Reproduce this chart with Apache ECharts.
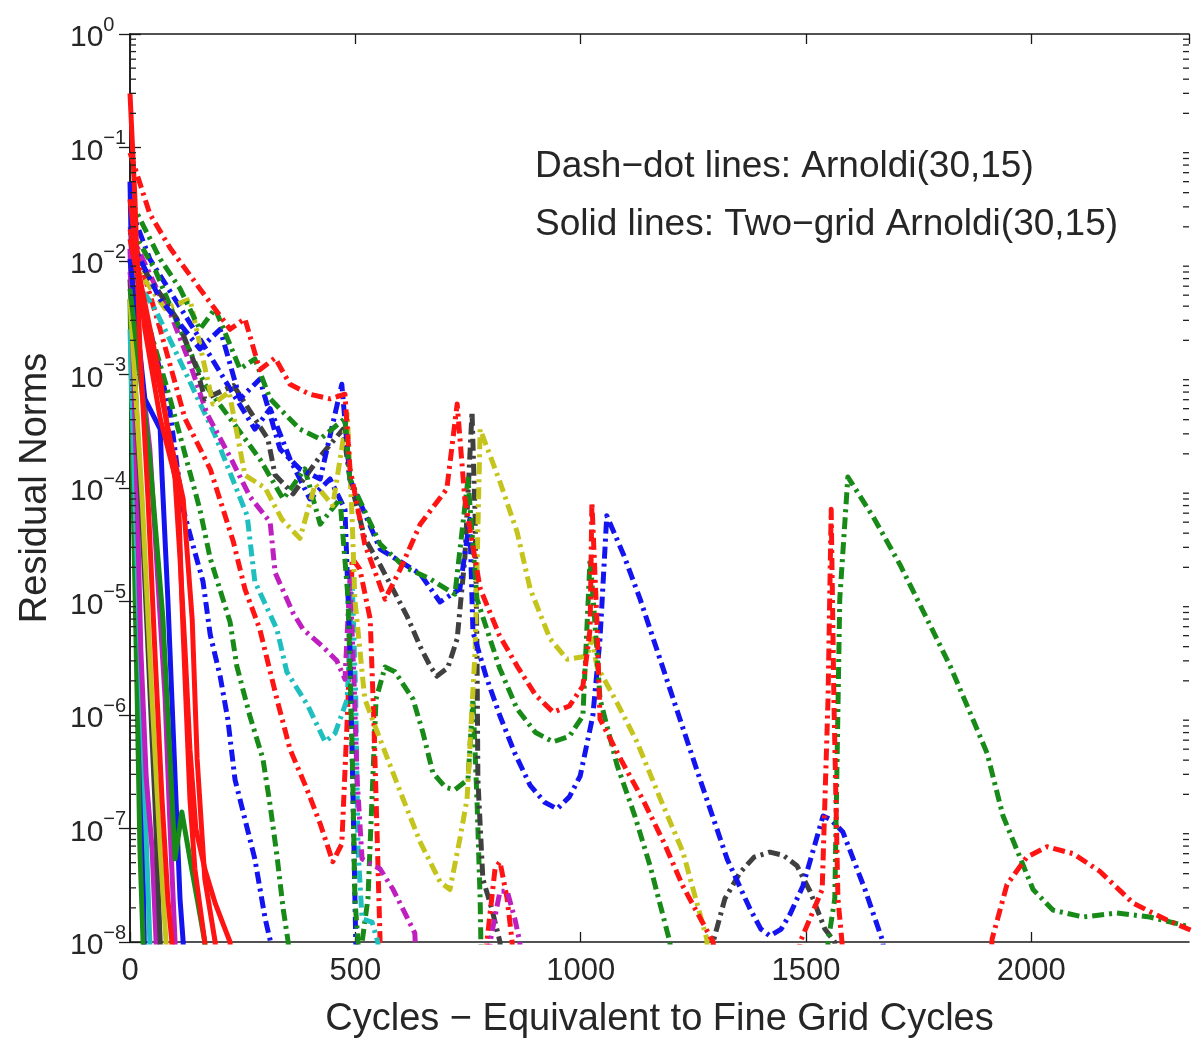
<!DOCTYPE html>
<html><head><meta charset="utf-8">
<script src="https://cdn.jsdelivr.net/npm/echarts@6/dist/echarts.min.js"></script>
<style>html,body{margin:0;padding:0;background:#fff}#c{width:1194px;height:1042px}</style>
</head><body><div id="c"></div>
<script>
// ---- axis definitions ----
const xTickValues = [0, 500, 1000, 1500, 2000];
const yDecadeExponents = [-8, -7, -6, -5, -4, -3, -2, -1, 0];
const minorMantissas = [2, 3, 4, 5, 6, 7, 8, 9];

// ---- Arnoldi(30,15): dash-dot lines ----
const arnRed1 = [[0,9e-2],[44,2.6e-2],[89,1.3e-2],[155,5.7e-3],[222,2.5e-3],[255,3.1e-3],[288,1.1e-3],[322,1.4e-3],[355,8.2e-4],[399,6.7e-4],[444,6.1e-4],[477,6.7e-4],[488,1.5e-4],[521,3.2e-5],[566,1.05e-5],[599,1.9e-5],[644,4.8e-5],[703,9.8e-5],[726,5.5e-4],[743,8e-5],[777,1.3e-5],[820,5e-6],[859,2.7e-6],[900,1.5e-6],[939,1.06e-6],[975,1.2e-6],[1005,1.8e-6],[1021,5.7e-6],[1025,7.5e-5],[1036,7e-6],[1043,9.2e-7],[1090,4e-7],[1138,1.8e-7],[1185,7.5e-8],[1227,3.1e-8],[1294,1e-8],[1309,1e-9]];
const arnGreen1 = [[0,3.5e-2],[67,1.04e-2],[111,5.7e-3],[155,2.5e-3],[189,3.8e-3],[244,1.12e-3],[277,1.37e-3],[311,6.1e-4],[377,3.3e-4],[422,2.7e-4],[477,4.1e-4],[488,1.2e-4],[555,3.2e-5],[610,2.0e-5],[666,1.58e-5],[721,1.16e-5],[750,1.2e-4],[770,1.05e-5],[820,2.6e-6],[859,1.13e-6],[900,7.0e-7],[939,5.8e-7],[975,6.5e-7],[1005,9.8e-7],[1021,2.4e-5],[1036,3.8e-6],[1043,1.38e-6],[1081,3.6e-7],[1120,1.3e-7],[1154,4.7e-8],[1198,1e-8],[1220,1e-9],[1536,1e-9],[1549,1e-8],[1564,2.4e-8],[1575,1.05e-5],[1593,1.25e-4],[1650,5.5e-5],[1709,2.1e-5],[1765,7.5e-6],[1820,2.7e-6],[1862,1.1e-6],[1902,4.6e-7],[1937,1.3e-7],[1968,6.5e-8],[2004,2.9e-8],[2048,1.91e-8],[2115,1.66e-8],[2190,1.8e-8],[2263,1.66e-8],[2352,1.36e-8]];
const arnBlue1 = [[0,1.56e-2],[67,4.6e-3],[155,1.68e-3],[200,2.5e-3],[244,6.1e-4],[288,9.1e-4],[333,2.2e-4],[377,1.47e-4],[422,1.2e-4],[470,8.2e-4],[488,1.2e-4],[555,2.9e-5],[644,1.75e-5],[688,9.9e-6],[732,1.29e-5],[754,5.3e-5],[761,5.4e-6],[790,2.2e-6],[821,9.8e-7],[855,4.5e-7],[888,2.4e-7],[920,1.7e-7],[948,1.49e-7],[975,1.9e-7],[999,2.9e-7],[1027,9.8e-7],[1043,4.7e-6],[1058,5.7e-5],[1095,2.6e-5],[1132,1.05e-5],[1198,1.7e-6],[1265,2.7e-7],[1325,5.4e-8],[1376,1.95e-8],[1400,1.3e-8],[1420,1.13e-8],[1445,1.3e-8],[1465,1.77e-8],[1493,3.1e-8],[1538,1.29e-7],[1555,1.2e-7],[1582,9.3e-8],[1631,2.9e-8],[1671,1e-8],[1686,1e-9]];
const arnYellow1 = [[0,1.04e-2],[78,3.8e-3],[133,4.6e-3],[184,5.5e-4],[220,7e-4],[255,1.3e-4],[300,1.0e-4],[337,5.3e-5],[377,3.6e-5],[411,1.08e-4],[450,7e-5],[482,4.5e-4],[493,5.3e-5],[499,1.05e-5],[521,1.38e-6],[555,6.1e-7],[606,1.82e-7],[644,7.6e-8],[688,3.4e-8],[710,2.9e-8],[732,8.1e-8],[748,1.82e-7],[766,3.8e-6],[777,3.3e-4],[821,1.13e-4],[859,4.1e-5],[888,1.29e-5],[932,4.7e-6],[970,3.1e-6],[1014,3.3e-6],[1025,4.7e-6],[1036,2.7e-6],[1080,1.3e-6],[1125,5.8e-7],[1175,1.9e-7],[1227,6.2e-8],[1280,1.06e-8],[1291,1e-9]];
const arnGray1 = [[0,1.28e-2],[104,3.1e-3],[149,1.1e-3],[166,6.1e-4],[230,8e-4],[306,2.7e-4],[322,1.3e-4],[362,8.9e-5],[422,1.9e-4],[473,3.3e-4],[488,1.2e-4],[521,3.6e-5],[555,2.1e-5],[615,7.4e-6],[644,4e-6],[666,2.7e-6],[681,2.2e-6],[705,2.6e-6],[726,4.7e-6],[743,2.4e-5],[759,4.7e-4],[766,5.3e-5],[770,3.8e-6],[772,2.7e-7],[783,3.6e-8],[803,1.95e-8],[821,1e-8],[832,1e-9],[1290,1e-9],[1294,1e-8],[1320,2.4e-8],[1354,4.1e-8],[1385,5.6e-8],[1420,6.2e-8],[1450,5.8e-8],[1480,4.7e-8],[1509,2.8e-8],[1542,1.3e-8],[1564,1e-8],[1575,1e-9]];
const arnGreen2 = [[0,6.9e-3],[44,2.5e-3],[89,6.1e-4],[155,6.5e-5],[178,2.4e-5],[222,6.6e-6],[237,2.7e-6],[266,9.8e-7],[295,4.1e-7],[311,1.6e-7],[326,5.8e-8],[340,1.95e-8],[351,1e-8],[366,1e-9],[506,1e-9],[515,1e-8],[528,2.4e-8],[546,1.38e-6],[566,2.65e-6],[588,2.4e-6],[628,1.38e-6],[650,7e-7],[672,3.1e-7],[700,2.3e-7],[721,2.2e-7],[750,2.7e-7],[761,1.38e-6],[770,1.8e-7],[777,2.4e-8],[783,1e-9]];
const arnBlue2 = [[0,1.0e-2],[44,2.5e-3],[89,4.7e-4],[104,1.6e-4],[118,6.5e-5],[140,3.1e-5],[162,1.5e-5],[178,5.1e-6],[200,2.2e-6],[217,9.2e-7],[233,2.7e-7],[255,1.21e-7],[277,5.4e-8],[300,1.6e-8],[312,1e-8],[320,1e-9]];
const arnRed2 = [[0,2e-2],[67,2.5e-3],[122,4.1e-4],[178,1.47e-4],[229,3.4e-5],[255,1.29e-5],[288,5.7e-6],[326,1.38e-6],[355,5e-7],[393,2.2e-7],[422,1.1e-7],[450,5.1e-8],[470,7.3e-8],[484,1.38e-6],[493,2.4e-5],[510,1.93e-5],[533,7e-6],[541,9.2e-7],[548,9.9e-8],[555,1e-8],[561,1e-9]];
const arnCyan1 = [[0,8e-3],[55,3.8e-3],[95,1.8e-3],[189,2.9e-4],[260,5.7e-5],[277,1.5e-5],[326,5.7e-6],[348,2.4e-6],[395,1.2e-6],[433,5.8e-7],[455,6.9e-7],[482,1.38e-6],[493,1.58e-5],[501,1.38e-6],[506,6.6e-8],[515,1.6e-8],[537,1.5e-8],[550,1e-8],[559,1e-9]];
const arnMagenta1 = [[0,1.8e-2],[67,4.9e-3],[89,3.5e-3],[133,1.25e-3],[171,4.5e-4],[226,1.75e-4],[266,8.4e-5],[311,5e-5],[322,1.8e-5],[362,7.9e-6],[384,5.7e-6],[428,4e-6],[459,3e-6],[477,2.07e-6],[488,1.58e-5],[497,2.07e-6],[504,2.7e-7],[515,5.4e-8],[555,4.4e-8],[584,2.9e-8],[632,1.2e-8],[644,1e-9]];
const arnMagenta2 = [[783,1e-9],[799,1e-8],[821,2.8e-8],[837,2.8e-8],[854,1.6e-8],[865,1e-8],[877,1e-9]];
const arnRed3 = [[777,1e-9],[792,1e-8],[810,4.4e-8],[821,5.1e-8],[837,2.4e-8],[848,1e-8],[854,1e-9]];
const arnRed4 = [[1465,1e-9],[1487,1e-8],[1536,2.9e-8],[1549,1.38e-6],[1556,6.5e-5],[1562,1.38e-6],[1571,2.4e-8],[1580,1e-8],[1587,1e-9],[1900,1e-9],[1913,1.06e-8],[1946,3.2e-8],[1990,5.6e-8],[2035,6.9e-8],[2093,6e-8],[2152,4.2e-8],[2226,2.2e-8],[2301,1.56e-8],[2359,1.25e-8]];
const arnGreen4 = [[0,2e-2],[55,8.5e-3],[111,2.5e-3],[166,8.2e-4],[222,4.1e-4],[288,1.8e-4],[340,8e-5],[388,1.47e-4],[422,4.8e-5],[466,8e-5],[484,1.05e-5],[493,5e-7],[499,2.4e-8],[506,1e-8],[515,1e-9]];
const arnBlue3 = [[0,3e-2],[44,1.04e-2],[100,4.6e-3],[155,2.06e-3],[222,7.5e-4],[277,3.3e-4],[311,5e-4],[355,1.8e-4],[399,8e-5],[444,1.2e-4],[477,6.5e-5],[488,3.8e-6],[495,1.82e-7],[501,1e-8],[506,1e-9]];

// ---- Two-grid Arnoldi(30,15): solid lines ----
const tgBlue1 = [[0,5e-2],[8,1e-3],[15,3e-5],[22,1e-6],[30,3e-8],[35,1e-9]];
const tgGreen1 = [[0,4.6e-3],[7,8e-5],[16,1.38e-6],[22,6.6e-8],[29,1e-8],[35,1e-9]];
const tgCyan1 = [[0,2.5e-3],[11,8e-5],[22,3.8e-6],[33,1.82e-7],[44,1e-8],[50,1e-9]];
const tgMagenta1 = [[0,1.28e-2],[13,2.2e-4],[24,3.8e-6],[36,2.8e-7],[49,6.6e-8],[58,1e-8],[62,1e-9]];
const tgGray1 = [[0,6.9e-3],[22,1.2e-4],[40,3.8e-6],[55,1.82e-7],[67,1e-8],[72,1e-9]];
const tgYellow1 = [[0,4.6e-3],[27,8e-5],[49,1.38e-6],[67,6.6e-8],[80,1e-8],[85,1e-9]];
const tgRed1 = [[0,3e-1],[11,3.5e-2],[22,1.68e-3],[40,8e-5],[55,3.8e-6],[71,1.82e-7],[84,2.4e-8],[93,1e-8],[98,1e-9]];
const tgMagenta2 = [[0,8e-3],[44,2.2e-4],[78,1.38e-6],[89,9.9e-8],[100,1e-8],[105,1e-9]];
const tgBlue2 = [[0,1.04e-2],[33,6.1e-4],[67,3.3e-4],[71,1.3e-4],[84,1.05e-5],[93,1.38e-6],[102,1.82e-7],[111,2.4e-8],[118,1e-8],[122,1e-9]];
const tgRed2 = [[0,3.5e-2],[33,2.5e-3],[67,4.1e-4],[107,9.8e-5],[115,1.05e-5],[124,1.38e-6],[133,1.82e-7],[144,4.4e-8],[166,1e-8],[172,1e-9]];
const tgGreen2 = [[0,5.7e-3],[44,1.8e-4],[73,7.1e-6],[89,4e-7],[100,5.4e-8],[115,1.4e-7],[133,5.4e-8],[149,2.4e-8],[166,1e-8],[172,1e-9]];
const tgRed3 = [[0,1.9e-2],[67,9.1e-4],[100,1.2e-4],[111,2.4e-5],[122,3.8e-6],[133,5e-7],[146,1e-7],[166,4.4e-8],[189,2.2e-8],[211,1.3e-8],[222,1e-8],[230,1e-9]];
const tgRed4 = [[0,1.56e-2],[89,2.7e-4],[118,8e-5],[138,7e-6],[149,4.1e-7],[166,3.6e-8],[189,1e-8],[195,1e-9]];

const COL = {b:'#1414f0', g:'#178a17', r:'#ff1414', c:'#1fbfbf', m:'#bf1fbf', y:'#c4c41c', k:'#404040'};

const dashDot = [
  [arnBlue2, COL.b], [arnGreen2, COL.g], [arnRed2, COL.r], [arnCyan1, COL.c], [arnMagenta1, COL.m],
  [arnBlue3, COL.b], [arnGreen4, COL.g], [arnGray1, COL.k], [arnYellow1, COL.y],
  [arnRed3, COL.r], [arnMagenta2, COL.m],
  [arnBlue1, COL.b], [arnGreen1, COL.g], [arnRed1, COL.r], [arnRed4, COL.r]
];
const solid = [
  [tgBlue1, COL.b], [tgGreen1, COL.g], [tgCyan1, COL.c], [tgMagenta1, COL.m], [tgGray1, COL.k],
  [tgYellow1, COL.y], [tgMagenta2, COL.m], [tgBlue2, COL.b], [tgGreen2, COL.g],
  [tgRed2, COL.r], [tgRed3, COL.r], [tgRed4, COL.r], [tgRed1, COL.r]
];

const series = [];
dashDot.forEach(([d, c]) => series.push({
  type:'line', data:d, symbol:'none', showSymbol:false, silent:true, clip:true,
  lineStyle:{color:c, width:5, type:[12,5,3,5], cap:'butt', join:'round'}
}));
solid.forEach(([d, c]) => series.push({
  type:'line', data:d, symbol:'none', showSymbol:false, silent:true, clip:true,
  lineStyle:{color:c, width:5, type:'solid', join:'round'}
}));

// log minor ticks on left and right axes
const minorTickValues = [];
yDecadeExponents.slice(0, -1).forEach(e => minorMantissas.forEach(m => minorTickValues.push(m * Math.pow(10, e))));
series.push({
  type:'custom', silent:true, clip:false, z:10,
  data: minorTickValues.map(v => [0, v]),
  renderItem(params, api) {
    const cs = params.coordSys;
    const y = api.coord([0, api.value(1)])[1];
    return {type:'group', children:[
      {type:'line', shape:{x1:cs.x, y1:y, x2:cs.x+6, y2:y}, style:{stroke:'#222', lineWidth:1.3}},
      {type:'line', shape:{x1:cs.x+cs.width, y1:y, x2:cs.x+cs.width-6, y2:y}, style:{stroke:'#222', lineWidth:1.3}}
    ]};
  }
});

const FONT = '"Liberation Sans", Arial, Helvetica, sans-serif';
const TXT = '#262626';
const axisLine = {show:true, lineStyle:{color:'#1a1a1a', width:1.6}};
const xBase = {type:'value', min:0, max:2350, interval:500, splitLine:{show:false}, axisLine, axisTick:{inside:true, length:10, lineStyle:{color:'#1a1a1a', width:1.3}}};
const yBase = {type:'log', logBase:10, min:1e-8, max:1, splitNumber:8, splitLine:{show:false}, axisLine, axisTick:{inside:true, length:11, lineStyle:{color:'#1a1a1a', width:1.3}}};

const chart = echarts.init(document.getElementById('c'), null, {renderer:'canvas'});
chart.setOption({
  animation:false,
  backgroundColor:'#fff',
  grid:{left:130, right:5, top:34, bottom:100, containLabel:false, outerBoundsMode:'none'},
  xAxis:[
    Object.assign({}, xBase, {position:'bottom',
      axisLabel:{show:true, margin:14, fontSize:31, color:TXT, fontFamily:FONT, showMaxLabel:false,
        formatter:v => xTickValues.includes(v) ? String(v) : ''},
      name:'Cycles \u2212 Equivalent to Fine Grid Cycles', nameLocation:'middle', nameGap:59,
      nameTextStyle:{fontSize:38, color:TXT, fontFamily:FONT}}),
    Object.assign({}, xBase, {position:'top', axisLabel:{show:false}})
  ],
  yAxis:[
    Object.assign({}, yBase, {position:'left',
      axisLabel:{show:true, margin:60, align:'left', verticalAlign:'middle',
        formatter:v => { const e = Math.round(Math.log10(v)); return yDecadeExponents.includes(e) ? '{b|10}{s|' + (e < 0 ? '\u2212' + (-e) : e) + '}' : ''; },
        rich:{
          b:{fontSize:30, color:TXT, fontFamily:FONT, lineHeight:38, verticalAlign:'bottom'},
          s:{fontSize:20, color:TXT, fontFamily:FONT, lineHeight:20, verticalAlign:'top'}
        }},
      name:'Residual Norms', nameLocation:'middle', nameGap:75, nameRotate:90,
      nameTextStyle:{fontSize:38, color:TXT, fontFamily:FONT}}),
    Object.assign({}, yBase, {position:'right', axisLabel:{show:false}})
  ],
  graphic:[
    {type:'text', left:535, top:148, silent:true, style:{text:'Dash\u2212dot lines: Arnoldi(30,15)', font:'37px ' + FONT, fill:TXT}},
    {type:'text', left:535, top:206, silent:true, style:{text:'Solid lines: Two\u2212grid Arnoldi(30,15)', font:'37px ' + FONT, fill:TXT}}
  ],
  series: series.map(s => Object.assign({xAxisIndex:0, yAxisIndex:0}, s))
});
</script>
</body></html>
